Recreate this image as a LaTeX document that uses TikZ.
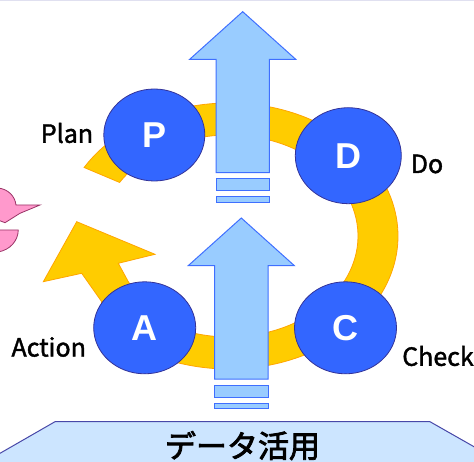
\documentclass[tikz,border=0pt]{standalone}
\usepackage{fontspec}
\setmainfont{Liberation Sans}
\newfontfamily\jpfont{Noto Sans CJK JP}[FakeBold=1.6]
\newfontfamily\jpheavy{Noto Sans CJK JP}[FakeBold=2.6]
\usepackage{tikz}
\usetikzlibrary{shapes.geometric}
\definecolor{ringyellow}{HTML}{FFCC00}
\definecolor{ringedge}{HTML}{FFA500}
\definecolor{ballblue}{HTML}{3366FF}
\definecolor{balledge}{HTML}{333399}
\definecolor{upfill}{HTML}{99CCFF}
\definecolor{upedge}{HTML}{3F6FFF}
\definecolor{basefill}{HTML}{CCE5FF}
\definecolor{baseedge}{HTML}{4848A8}
\definecolor{pinkfill}{HTML}{FF99CC}
\definecolor{pinkedge}{HTML}{993366}
\definecolor{frameline}{HTML}{E0E0F0}
\tikzset{
  ball/.style={ellipse, inner sep=0pt, fill=ballblue, draw=balledge, line width=0.8pt,
    text=white, font=\fontsize{36}{36}\selectfont\bfseries},
  word/.style={font=\jpfont\fontsize{25}{25}\selectfont},
  upshape/.style={fill=upfill, draw=upedge, line width=1pt},
  ring/.style={fill=ringyellow, draw=ringedge, line width=0.8pt},
  pinkpart/.style={fill=pinkfill, draw=pinkedge, line width=0.8pt},
  base/.style={fill=basefill, draw=baseedge, line width=1pt}
}
\newcommand{\bigup}[2]{
  \draw [upshape] (#1-26.7,#2) -- (#1-26.7,#2+113.4) -- (#1-53,#2+113.4) -- (#1,#2+161)
    -- (#1+53,#2+113.4) -- (#1+26.7,#2+113.4) -- (#1+26.7,#2) -- cycle;
  \draw [upshape] (#1-26.7,#2-6) rectangle (#1+26.7,#2-18);
  \draw [upshape] (#1-26.7,#2-24) rectangle (#1+26.7,#2-29.6);
}

\begin{document}
\begin{tikzpicture}[x=1pt,y=1pt]
\useasboundingbox (0,0) rectangle (474,461);
\clip (0,0) rectangle (474,461);

% frame edge
\draw [frameline, line width=1.5pt] (0,460.5) -- (474,460.5);

% pink pieces at the left edge
\draw [pinkpart] (-2,273) .. controls (8,272) and (15,265) .. (16,256) -- (40,256)
  -- (20,247.7) -- (5,238.3) -- (-2,241) -- cycle;
\draw [pinkpart] (-2,231) -- (18.3,231) .. controls (18,220) and (10,211) .. (-2,209) -- cycle;

% base
\draw [base] (-20,-3.8) -- (55,39.3) -- (430,39.3) -- (494,2.9) -- (494,-10) -- (-20,-10) -- cycle;
\node [font=\jpheavy\fontsize{31}{31}\selectfont, anchor=base] (data) at (242.5,3.5) {データ活用};

% cycle ring
\draw [ring] (84.1,293.5) arc[start angle=149, end angle=-140, x radius=169, y radius=133]
  -- (101.7,159.3) -- (81.7,187.7) -- (43.3,179.3) -- (76.7,239.3) -- (155,206.7)
  -- (118.3,197.7) -- (128.3,179.3) -- (155,142.3)
  arc[start angle=-125, end angle=148, x radius=129, y radius=101] -- cycle;

% rising arrows
\bigup{242.7}{288.3}
\bigup{241.3}{82}

% steps
\node [ball, minimum width=101pt, minimum height=92pt] (P) at (154.3,326)   {P};
\node [ball, minimum width=106pt, minimum height=96pt] (D) at (348.3,305.3) {D};
\node [ball, minimum width=102pt, minimum height=92pt] (A) at (144.7,133.2) {A};
\node [ball, minimum width=102pt, minimum height=92pt] (C) at (345.5,133.2) {C};

% names
\node [word] (lplan)   at ( 67  ,328) {Plan};
\node [word] (ldo)     at (427  ,297) {Do};
\node [word] (laction) at ( 48.7,114) {Action};
\node [word] (lcheck)  at (438  ,105) {Check};

\end{tikzpicture}
\end{document}
